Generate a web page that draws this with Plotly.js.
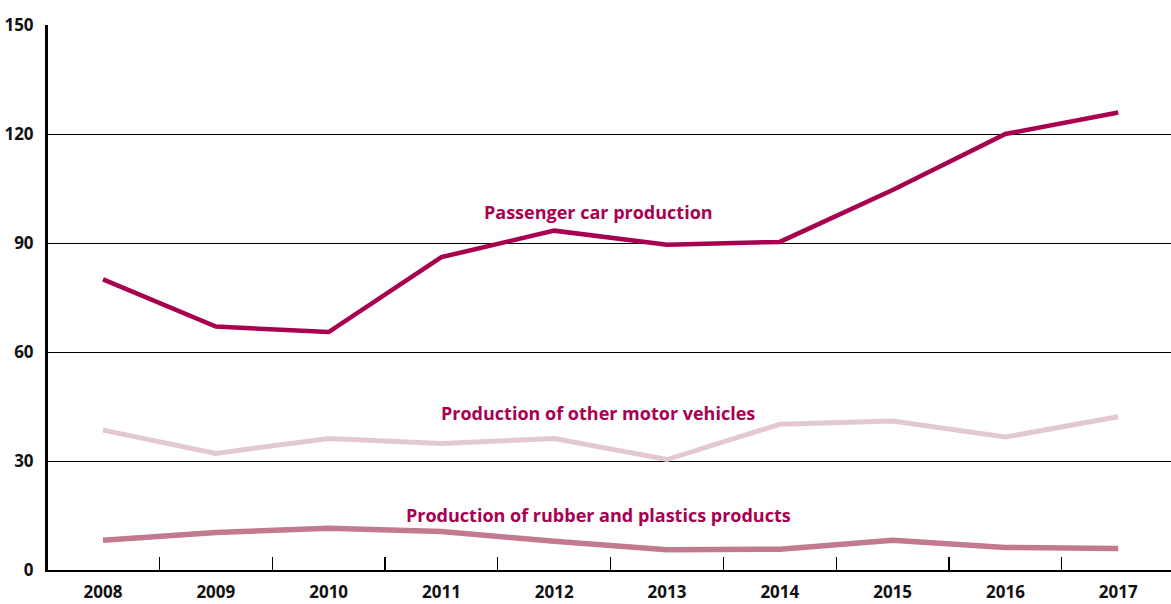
<!DOCTYPE html>
<html>
<head>
<meta charset="utf-8">
<script src="https://cdn.plot.ly/plotly-3.0.1.min.js"></script>
<style>html,body{margin:0;padding:0;background:#fff;}#chart{width:1171px;height:604px;}</style>
</head>
<body>
<div id="chart"></div>
<script>
const years = ["2008","2009","2010","2011","2012","2013","2014","2015","2016","2017"];
const passengerCars = [80.0, 67.0, 65.5, 86.1, 93.4, 89.5, 90.3, 104.6, 120.0, 125.9];
const otherMotorVehicles = [38.5, 32.1, 36.2, 34.8, 36.2, 30.4, 40.1, 41.0, 36.6, 42.2];
const rubberPlastics = [8.2, 10.3, 11.5, 10.6, 7.9, 5.6, 5.7, 8.2, 6.2, 5.9];
const seriesNames = ["Passenger car production", "Production of other motor vehicles", "Production of rubber and plastics products"];
const yTicks = [0, 30, 60, 90, 120, 150];

const font = "'Open Sans', 'DejaVu Sans', sans-serif";
const labelColor = "#A8004F";

const traces = [
  {x: years, y: rubberPlastics, name: seriesNames[2], type: "scatter", mode: "lines",
   line: {color: "#C27B8E", width: 5.5}},
  {x: years, y: otherMotorVehicles, name: seriesNames[1], type: "scatter", mode: "lines",
   line: {color: "#E2C9D1", width: 5}},
  {x: years, y: passengerCars, name: seriesNames[0], type: "scatter", mode: "lines",
   line: {color: "#A8004F", width: 4.5}}
];

const layout = {
  width: 1171, height: 604,
  margin: {l: 48, r: 0, t: 25, b: 34, pad: 0},
  paper_bgcolor: "#fff", plot_bgcolor: "#fff",
  showlegend: false,
  font: {family: font, color: "#111"},
  xaxis: {
    type: "category",
    range: [-0.488, 9.468],
    showgrid: false, zeroline: false,
    showline: true, linecolor: "#000", linewidth: 2,
    ticks: "inside", tickson: "boundaries", ticklen: 13, tickwidth: 1.3, tickcolor: "#000",
    tickfont: {family: font, size: 17, color: "#111", weight: "bold"},
    ticklabelstandoff: 6,
    fixedrange: true
  },
  yaxis: {
    range: [0, 150],
    tickvals: yTicks,
    ticktext: yTicks.map(String),
    showgrid: true, gridcolor: "#000", gridwidth: 1,
    zeroline: false,
    showline: true, linecolor: "#000", linewidth: 3,
    ticks: "",
    tickfont: {family: font, size: 17, color: "#111", weight: "bold"},
    ticklabelstandoff: 8,
    fixedrange: true
  },
  annotations: [
    {x: 4.39, y: 98.6, xref: "x", yref: "y", text: seriesNames[0], showarrow: false,
     font: {family: font, size: 18, color: labelColor, weight: "bold"}},
    {x: 4.39, y: 43.2, xref: "x", yref: "y", text: seriesNames[1], showarrow: false,
     font: {family: font, size: 18, color: labelColor, weight: "bold"}},
    {x: 4.39, y: 15.1, xref: "x", yref: "y", text: seriesNames[2], showarrow: false,
     font: {family: font, size: 18, color: labelColor, weight: "bold"}}
  ]
};

Plotly.newPlot("chart", traces, layout, {staticPlot: true, displayModeBar: false});
</script>
</body>
</html>
